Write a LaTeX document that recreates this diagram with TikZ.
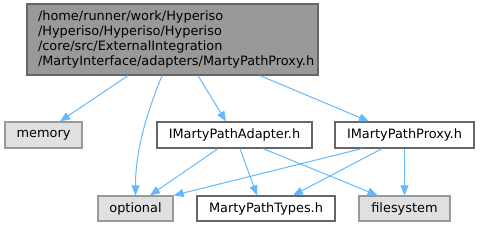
\documentclass[tikz,border=0pt]{standalone}
\usepackage{fontspec}
\setmainfont{DejaVu Sans}
\usepackage{xcolor}
\usepackage{tikz}
\usetikzlibrary{positioning, arrows.meta}
\definecolor{edgeblue}{HTML}{63B8FF}
\definecolor{topfill}{HTML}{999999}
\definecolor{darkline}{HTML}{666666}
\definecolor{sysfill}{HTML}{E0E0E0}
\definecolor{sysline}{HTML}{999999}

\begin{document}
\begin{tikzpicture}[x=1pt, y=-1pt,
    font=\fontsize{12.9}{15}\selectfont,
    filebox/.style={draw=darkline, line width=1.2pt, fill=white,
      inner sep=0pt, minimum height=26pt},
    sysbox/.style={draw=sysline, line width=1.2pt, fill=sysfill,
      inner sep=0pt, minimum height=25pt},
    dep/.style={draw=edgeblue, line width=1pt,
      -{Triangle[length=10pt, width=8pt]}}]
  \useasboundingbox (0, 0) rectangle (480, 227);

  % Header being documented
  \node[draw=darkline, line width=1.2pt, fill=topfill, inner xsep=11pt,
        inner ysep=0pt, text width=269pt, minimum height=71pt, align=left]
    (proxyh) at (172.5, 39.5)
    {/home/runner/work/Hyperiso\\/Hyperiso/Hyperiso/Hyperiso\\
     /core/src/ExternalIntegration\\/MartyInterface/adapters/MartyPathProxy.h};

  % Second row
  \node[sysbox, minimum width=77pt, minimum height=26pt] (memory) at (43.5, 135) {memory};
  \node[filebox, minimum width=155pt] (adapter) at (234.5, 135) {IMartyPathAdapter.h};
  \node[filebox, minimum width=139pt] (iproxy) at (404.5, 135) {IMartyPathProxy.h};

  % Third row
  \node[sysbox, minimum width=75pt] (optional) at (135.5, 208.5) {optional};
  \node[filebox, minimum width=138pt, minimum height=25pt] (types) at (266, 208.5) {MartyPathTypes.h};
  \node[sysbox, minimum width=91pt] (filesystem) at (404.5, 208.5) {filesystem};

  % Includes of the header
  \draw[dep] ([xshift=-44.5pt]proxyh.south) -- ([xshift=16.5pt]memory.north);
  \draw[dep] ([xshift=-10.5pt]proxyh.south)
    .. controls +(-12, 30) and +(0, -50) .. (optional.north);
  \draw[dep] ([xshift=25.5pt]proxyh.south) -- ([xshift=-8.5pt]adapter.north);
  \draw[dep] ([xshift=87.5pt]proxyh.south) -- ([xshift=-35.5pt]iproxy.north);

  % Includes of IMartyPathAdapter.h
  \foreach \from/\to/\dst in {-16.5/14.5/optional, 5.5/-9/types, 28.5/-27/filesystem}
    \draw[dep] ([xshift=\from pt]adapter.south) -- ([xshift=\to pt]\dst.north);

  % Includes of IMartyPathProxy.h
  \draw[dep] ([xshift=-42.5pt]iproxy.south) -- (optional.north east);
  \draw[dep] ([xshift=-22.5pt]iproxy.south) -- ([xshift=27pt]types.north);
  \draw[dep] (iproxy.south) -- (filesystem.north);
\end{tikzpicture}
\end{document}
